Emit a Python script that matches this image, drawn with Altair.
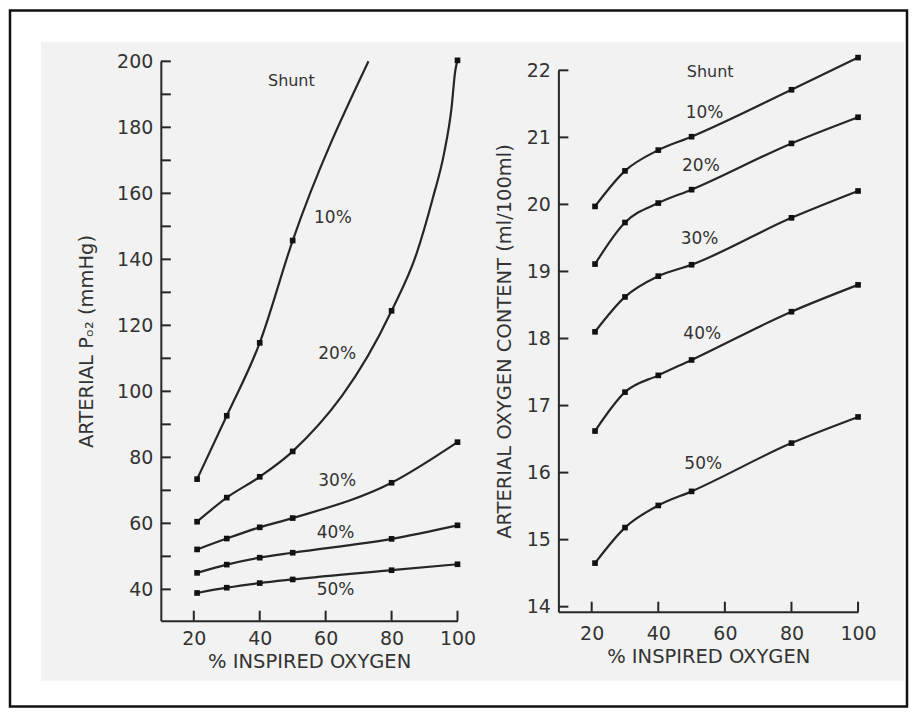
import altair as alt
import pandas as pd

# ---------------- data ----------------
inspired_o2 = [21, 30, 40, 50, 80, 100]
inspired_o2_10 = [21, 30, 40, 50]
series_names = ["10%", "20%", "30%", "40%", "50%"]

# Left panel: arterial PO2 (mmHg), measured dots
po2_shunt10 = [73.4, 92.6, 114.7, 145.7]
po2_shunt20 = [60.5, 67.8, 74.1, 81.8, 124.4, 200.3]
po2_shunt30 = [52.1, 55.4, 58.8, 61.6, 72.3, 84.6]
po2_shunt40 = [45.0, 47.5, 49.6, 51.1, 55.3, 59.4]
po2_shunt50 = [38.9, 40.5, 41.9, 43.0, 45.8, 47.6]

# points read along the drawn curves where no dot is drawn
po2_curve10_x = [73.0]
po2_curve10_y = [200.0]
po2_curve20_x = [87.5, 92.5, 96.0, 98.2, 99.3]
po2_curve20_y = [141.5, 158.5, 172.5, 186.0, 197.0]

# Right panel: arterial oxygen content (ml/100ml)
o2c_shunt10 = [19.97, 20.50, 20.81, 21.01, 21.71, 22.19]
o2c_shunt20 = [19.11, 19.73, 20.02, 20.22, 20.91, 21.30]
o2c_shunt30 = [18.10, 18.62, 18.93, 19.10, 19.80, 20.20]
o2c_shunt40 = [16.62, 17.20, 17.45, 17.68, 18.40, 18.80]
o2c_shunt50 = [14.65, 15.18, 15.51, 15.72, 16.44, 16.83]

# ticks
x_ticks = [20, 40, 60, 80, 100]
po2_ticks_major = [40, 60, 80, 100, 120, 140, 160, 180, 200]
po2_ticks_minor = [50, 70, 90, 110, 130, 150, 170, 190]
o2c_ticks = [14, 15, 16, 17, 18, 19, 20, 21, 22]

# annotations
shunt_word = ["Shunt"]
left_shunt_x, left_shunt_y = [49.6], [193.9]
left_pct_x = [62.2, 63.5, 63.5, 63.0, 63.0]
left_pct_y = [152.5, 111.2, 72.9, 57.1, 39.9]
right_shunt_x, right_shunt_y = [55.6], [21.98]
right_pct_x = [53.9, 52.8, 52.4, 53.2, 53.5]
right_pct_y = [21.37, 20.57, 19.49, 18.07, 16.13]

# ---------------- tables ----------------
def pts(xs, ys, name):
    return pd.DataFrame({"x": xs, "y": ys, "s": name})

left_pts = pd.concat([
    pts(inspired_o2_10, po2_shunt10, "10%"),
    pts(inspired_o2, po2_shunt20, "20%"),
    pts(inspired_o2, po2_shunt30, "30%"),
    pts(inspired_o2, po2_shunt40, "40%"),
    pts(inspired_o2, po2_shunt50, "50%"),
], ignore_index=True)
left_curve = pd.concat([
    left_pts,
    pts(po2_curve10_x, po2_curve10_y, "10%"),
    pts(po2_curve20_x, po2_curve20_y, "20%"),
], ignore_index=True).sort_values(["s", "x"])

right_pts = pd.concat([
    pts(inspired_o2, o2c_shunt10, "10%"),
    pts(inspired_o2, o2c_shunt20, "20%"),
    pts(inspired_o2, o2c_shunt30, "30%"),
    pts(inspired_o2, o2c_shunt40, "40%"),
    pts(inspired_o2, o2c_shunt50, "50%"),
], ignore_index=True)

# ---------------- style ----------------
FONT = "DejaVu Sans"
INK = "#262626"
TXT = "#333333"
W1, H1 = 297, 560
W2, H2 = 300, 542
TICK = 10

xs1 = alt.Scale(domain=[10, 100], nice=False, zero=False)
ys1 = alt.Scale(domain=[30.5, 200], nice=False, zero=False)
xs2 = alt.Scale(domain=[10, 100], nice=False, zero=False)
ys2 = alt.Scale(domain=[13.925, 22], nice=False, zero=False)

def x_axis(lp, tp):
    return alt.Axis(values=x_ticks, title="% INSPIRED OXYGEN", labelPadding=lp,
                    titlePadding=tp, labelFlush=False, labelOverlap=False,
                    ticks=False, tickSize=0, grid=False, format="d", zindex=2)

ax_x1 = x_axis(9, 4)
ax_x2 = x_axis(13, 4)
ax_y1 = alt.Axis(values=po2_ticks_major, title="ARTERIAL Pₒ₂ (mmHg)", labelPadding=8,
                 titlePadding=20, ticks=False, tickSize=0, grid=False, labelOverlap=False,
                 format="d", zindex=2)
ax_y2 = alt.Axis(values=o2c_ticks, title="ARTERIAL OXYGEN CONTENT (ml/100ml)",
                 labelPadding=8, titlePadding=12, ticks=False, tickSize=0, grid=False,
                 labelOverlap=False, format="d", zindex=2)


def panel(pts_df, curve_df, xs, ys, ax_x, ax_y, H, yt_major, yt_minor,
          sx, sy, px, py, decorations):
    X = lambda: alt.X("x:Q", scale=xs, axis=ax_x)
    Y = lambda: alt.Y("y:Q", scale=ys, axis=ax_y)
    layers = list(decorations)
    layers.append(
        alt.Chart(pd.DataFrame({"y": yt_major + yt_minor})).mark_rule(
            color=INK, strokeWidth=2).encode(y=Y(), x=alt.value(0), x2=alt.value(TICK)))
    layers.append(
        alt.Chart(pd.DataFrame({"x": x_ticks})).mark_rule(
            color=INK, strokeWidth=2).encode(x=X(), y=alt.value(H), y2=alt.value(H - TICK)))
    layers.append(
        alt.Chart(curve_df).mark_line(interpolate="monotone", color=INK, strokeWidth=2.2)
        .encode(x=X(), y=Y(), detail="s:N"))
    layers.append(
        alt.Chart(pts_df).mark_point(filled=True, shape="square", size=32, color="#111111",
                                     opacity=1).encode(x=X(), y=Y()))
    layers.append(
        alt.Chart(pd.DataFrame({"x": sx, "y": sy, "t": shunt_word})).mark_text(
            font=FONT, fontSize=16, color=TXT).encode(x=X(), y=Y(), text="t:N"))
    layers.append(
        alt.Chart(pd.DataFrame({"x": px, "y": py, "t": series_names})).mark_text(
            font=FONT, fontSize=17, color=TXT).encode(x=X(), y=Y(), text="t:N"))
    return layers


one = pd.DataFrame({"a": [0]})
gray_bg = alt.Chart(one).mark_rect(color="#f2f2f2").encode(
    x=alt.value(-120), x2=alt.value(744), y=alt.value(-19), y2=alt.value(620))
border = alt.Chart(one).mark_rect(fill="transparent", stroke="#111111", strokeWidth=2.5).encode(
    x=alt.value(-151), x2=alt.value(747), y=alt.value(-51), y2=alt.value(646))

left = alt.layer(*panel(left_pts, left_curve, xs1, ys1, ax_x1, ax_y1, H1,
                        po2_ticks_major, po2_ticks_minor,
                        left_shunt_x, left_shunt_y, left_pct_x, left_pct_y,
                        [gray_bg, border])).properties(width=W1, height=H1)

right = alt.layer(*panel(right_pts, right_pts, xs2, ys2, ax_x2, ax_y2, H2,
                         o2c_ticks, [],
                         right_shunt_x, right_shunt_y, right_pct_x, right_pct_y,
                         [])).properties(width=W2, height=H2)

chart = alt.hconcat(left, right, spacing=101, bounds="flush", center=True).properties(
    padding=0, background="white"
).configure_view(stroke="transparent").configure_axis(
    domainColor=INK, domainWidth=2, labelFont=FONT, labelFontSize=19, labelColor=TXT,
    titleFont=FONT, titleFontSize=19.5, titleFontWeight="normal", titleColor=TXT
)

chart.save("out.html", embed_options={"renderer": "svg", "actions": False})
